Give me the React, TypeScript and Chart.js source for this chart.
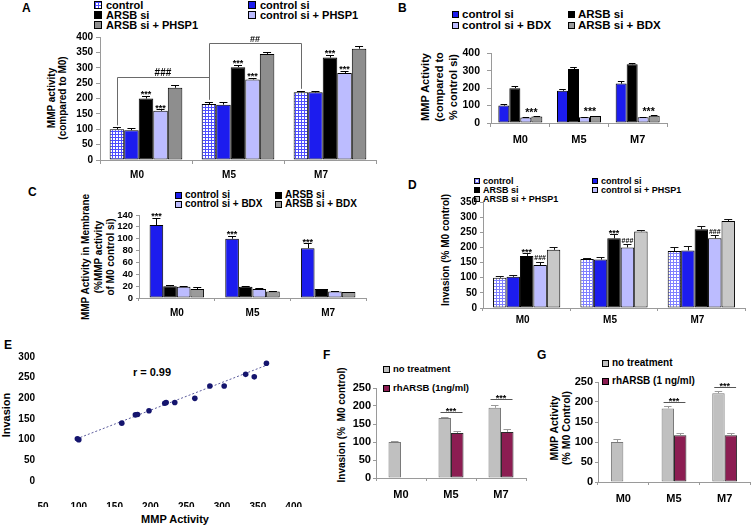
import React, { useEffect, useRef } from 'react';
import { Chart, registerables } from 'chart.js';

Chart.register(...registerables);

const FONT = "'Liberation Sans', Arial, Helvetica, sans-serif";
Chart.defaults.font.family = FONT;

// ---------------- data ----------------
const groups = ['M0', 'M5', 'M7'];

// Panel A — MMP activity (compared to M0)
const aLabels = ['control', 'control si', 'ARSB si', 'control si + PHSP1', 'ARSB si + PHSP1'];
const aControl = [100, 182, 220];
const aControlSi = [97, 180, 220];
const aArsbSi = [200, 302, 333];
const aControlSiPhsp1 = [160, 262, 283];
const aArsbSiPhsp1 = [235, 345, 362];
const aControlErr = [6, 8, 5];
const aControlSiErr = [8, 8, 5];
const aArsbSiErr = [9, 8, 10];
const aControlSiPhsp1Err = [5, 6, 8];
const aArsbSiPhsp1Err = [8, 7, 8];
const aBracketLevels = [270, 380];
const aBracketTexts = ['###', '##'];

// Panel B — MMP Activity (compared to % control si)
const bLabels = ['control si', 'ARSB si', 'control si + BDX', 'ARSB si + BDX'];
const bControlSi = [100, 185, 226];
const bArsbSi = [200, 310, 337];
const bControlSiBdx = [32, 33, 33];
const bArsbSiBdx = [37, 40, 42];
const bControlSiErr = [8, 9, 13];
const bArsbSiErr = [15, 9, 9];
const bControlSiBdxErr = [3, 2, 3];
const bArsbSiBdxErr = [3, 2, 3];

// Panel C — MMP Activity in Membrane
const cLabels = ['control si', 'ARSB si', 'control si + BDX', 'ARSB si + BDX'];
const cControlSi = [123, 100, 84];
const cArsbSi = [20, 19, 15];
const cControlSiBdx = [19, 15, 11];
const cArsbSiBdx = [15, 11, 10];
const cControlSiErr = [12, 5, 8];
const cArsbSiErr = [1.5, 0.5, 0.5];
const cControlSiBdxErr = [0.5, 2, 1.5];
const cArsbSiBdxErr = [3, 1.5, 0.5];

// Panel D — Invasion (% M0 control)
const dLabels = ['control', 'control si', 'ARSB si', 'control si + PHSP1', 'ARSB si + PHSP1'];
const dControl = [100, 162, 188];
const dControlSi = [103, 160, 190];
const dArsbSi = [172, 230, 260];
const dControlSiPhsp1 = [142, 200, 230];
const dArsbSiPhsp1 = [192, 253, 287];
const dControlErr = [5, 3, 13];
const dControlSiErr = [5, 8, 15];
const dArsbSiErr = [8, 13, 12];
const dControlSiPhsp1Err = [10, 10, 10];
const dArsbSiPhsp1Err = [10, 6, 6];

// Panel E — Invasion vs MMP Activity
const eMmp = [98, 100, 160, 179, 182, 198, 220, 222, 234, 262, 283, 303, 333, 345, 362];
const eInvasion = [102, 100, 140, 160, 161, 170, 188, 190, 190, 200, 230, 230, 258, 252, 285];
const eTrendMmp = [97, 362];
const eTrendInvasion = [102, 280];
const eR = 'r = 0.99';

// Panel F — Invasion (% M0 control)
const fLabels = ['no treatment', 'rhARSB (1ng/ml)'];
const fNoTreatment = [100, 167, 195];
const fRhArsb = [null, 125, 128];
const fNoTreatmentErr = [3, 2, 8];
const fRhArsbErr = [0, 5, 7];
const fSigLevels = [null, 182, 220];
const fYTicks = [0, 50, 100, 150, 200, 250];

// Panel G — MMP Activity (% M0 Control)
const gLabels = ['no treatment', 'rhARSB (1 ng/ml)'];
const gNoTreatment = [100, 184, 222];
const gRhArsb = [null, 117, 117];
const gNoTreatmentErr = [8, 6, 5];
const gRhArsbErr = [0, 5, 6];
const gSigLevels = [null, 200, 238];
const gYTicks = [0, 50, 100, 150, 200, 250];

// ---------------- colours ----------------
const BLUE = '#1c1cee';
const LAV = '#bcbcff';
const BLACK = '#000000';
const GRAY_DARK = '#8e8e8e';
const GRAY_MID = '#9a9a9a';
const GRAY_LIGHT = '#c8c8c8';
const FG_GRAY = '#c0c0c0';
const MAROON = '#8c1d52';
const AXIS = '#9a9a9a';

function hatch(color: string) {
  const c = document.createElement('canvas');
  c.width = 3;
  c.height = 3;
  const g = c.getContext('2d')!;
  g.fillStyle = '#fff';
  g.fillRect(0, 0, 3, 3);
  g.fillStyle = color;
  g.fillRect(0, 0, 3, 1);
  g.fillRect(0, 0, 1, 3);
  return g.createPattern(c, 'repeat')!;
}
const cssHatch = (color: string) =>
  `linear-gradient(${color} 1px, transparent 1px) 0 0 / 3px 3px, linear-gradient(90deg, ${color} 1px, transparent 1px) 0 0 / 3px 3px, #fff`;

// ---------------- extras plugin (error bars, significance marks, y tick labels) ----------------
type Mark = { ds: number[]; idx: number; text: string; size: number; level?: number | null; gap?: number };
type Bracket = { a: [number, number]; b: [number, number]; level: number; text: string; size: number };
type Extras = {
  errors: (number | null)[][];
  errColor: string;
  marks?: Mark[];
  brackets?: Bracket[];
  yLabels?: { size: number; offset: number };
};

function makeExtras(opts: Extras) {
  return {
    id: 'extras',
    afterDatasetsDraw(chart: any) {
      const ctx = chart.ctx as CanvasRenderingContext2D;
      const ys = chart.scales.y;
      const val = (ds: number, i: number) => chart.data.datasets[ds].data[i] as number;
      const err = (ds: number, i: number) => (opts.errors[ds] && opts.errors[ds][i]) || 0;
      const el = (ds: number, i: number) => chart.getDatasetMeta(ds).data[i];
      const topPx = (ds: number, i: number) => ys.getPixelForValue(val(ds, i) + err(ds, i));
      const r = (v: number) => Math.round(v) + 0.5;
      ctx.save();
      ctx.lineWidth = 1;
      opts.errors.forEach((errs, ds) => {
        errs.forEach((e, i) => {
          const v = val(ds, i);
          if (v == null || !e) return;
          const b = el(ds, i);
          const y0 = ys.getPixelForValue(v);
          const y1 = ys.getPixelForValue(v + e);
          const cap = Math.min(b.width * 0.3, 4);
          ctx.strokeStyle = opts.errColor;
          ctx.beginPath();
          ctx.moveTo(r(b.x), y0);
          ctx.lineTo(r(b.x), r(y1));
          ctx.moveTo(b.x - cap, r(y1));
          ctx.lineTo(b.x + cap, r(y1));
          ctx.stroke();
        });
      });
      ctx.fillStyle = '#000';
      ctx.textAlign = 'center';
      ctx.textBaseline = 'alphabetic';
      (opts.marks || []).forEach((m) => {
        ctx.font = `bold ${m.size}px ${FONT}`;
        const els = m.ds.map((d) => el(d, m.idx));
        const x = els.reduce((s, e) => s + e.x, 0) / els.length;
        if (m.level != null) {
          const yl = r(ys.getPixelForValue(m.level));
          const left = Math.min(...els.map((e) => e.x - e.width / 2)) + 2;
          const right = Math.max(...els.map((e) => e.x + e.width / 2)) - 1;
          ctx.strokeStyle = '#555';
          ctx.beginPath();
          ctx.moveTo(left, yl);
          ctx.lineTo(right, yl);
          ctx.stroke();
          ctx.fillText(m.text, x, yl + 1.5);
        } else {
          const base = Math.min(...m.ds.map((d) => topPx(d, m.idx))) - (m.gap || 0);
          const star = m.text.indexOf('*') >= 0;
          ctx.fillText(m.text, x, base + (star ? 1.5 : -1.5));
        }
      });
      (opts.brackets || []).forEach((bk) => {
        const ea = el(bk.a[0], bk.a[1]);
        const eb = el(bk.b[0], bk.b[1]);
        const ya = topPx(bk.a[0], bk.a[1]) - 2;
        const yb = topPx(bk.b[0], bk.b[1]) - 2;
        const yl = r(ys.getPixelForValue(bk.level));
        ctx.strokeStyle = '#6a6a6a';
        ctx.beginPath();
        ctx.moveTo(r(ea.x), ya);
        ctx.lineTo(r(ea.x), yl);
        ctx.lineTo(r(eb.x), yl);
        ctx.lineTo(r(eb.x), yb);
        ctx.stroke();
        ctx.font = `bold ${bk.size}px ${FONT}`;
        ctx.fillText(bk.text, (ea.x + eb.x) / 2, yl - 2);
      });
      ctx.restore();
    },
    afterDraw(chart: any) {
      if (!opts.yLabels) return;
      const ctx = chart.ctx as CanvasRenderingContext2D;
      const ys = chart.scales.y;
      ctx.save();
      ctx.font = `bold ${opts.yLabels.size}px ${FONT}`;
      ctx.fillStyle = '#000';
      ctx.textAlign = 'right';
      ctx.textBaseline = 'middle';
      ys.ticks.forEach((t: any) => {
        ctx.fillText(String(t.label), ys.right - opts.yLabels!.offset, ys.getPixelForValue(t.value));
      });
      ctx.restore();
    },
  };
}

// ---------------- chart helpers ----------------
type Box = { L: number; T: number; R: number; B: number; yW: number; xH: number; pt: number; pr: number };

type DS = { label: string; data: (number | null)[]; bg: any; border?: string };
type BarSpec = {
  box: Box;
  datasets: DS[];
  min: number;
  max: number;
  step: number;
  yFont: number;
  xFont: number;
  yTick: number;
  yPad: number;
  xTick: number;
  xPad: number;
  catPct: number;
  labelOffset?: number;
  yMode?: 'lib' | 'own' | 'html';
  extras: Extras;
};

function buildBar(canvas: HTMLCanvasElement, s: BarSpec) {
  const mode = s.yMode || 'lib';
  const extras: Extras = mode === 'own' ? { ...s.extras, yLabels: { size: s.yFont, offset: s.yTick + s.yPad } } : s.extras;
  return new Chart(canvas, {
    type: 'bar',
    data: {
      labels: groups,
      datasets: s.datasets.map((d) => ({
        label: d.label,
        data: d.data,
        backgroundColor: d.bg,
        borderColor: d.border || '#000',
        borderWidth: 1,
        borderSkipped: false,
        barPercentage: 1,
        categoryPercentage: s.catPct,
      })),
    },
    options: {
      responsive: false,
      maintainAspectRatio: false,
      animation: false,
      devicePixelRatio: 1,
      events: [],
      layout: { padding: { top: s.box.pt, right: s.box.pr, left: 0, bottom: 0 } },
      plugins: { legend: { display: false }, tooltip: { enabled: false }, title: { display: false } },
      scales: {
        x: {
          type: 'category',
          offset: true,
          grid: { display: true, offset: true, drawOnChartArea: false, drawTicks: true, tickLength: s.xTick, color: AXIS },
          border: { display: true, color: AXIS },
          ticks: {
            font: { family: FONT, size: s.xFont, weight: 'bold' },
            color: '#000',
            padding: s.xPad,
            maxRotation: 0,
            autoSkip: false,
            labelOffset: s.labelOffset || 0,
          },
          afterFit: (sc: any) => {
            sc.height = s.box.xH;
          },
        },
        y: {
          type: 'linear',
          min: s.min,
          max: s.max,
          grid: { display: true, drawOnChartArea: false, drawTicks: true, tickLength: s.yTick, color: AXIS },
          border: { display: true, color: AXIS },
          ticks: {
            stepSize: s.step,
            autoSkip: false,
            font: { family: FONT, size: s.yFont, weight: 'bold' },
            color: mode === 'lib' ? '#000' : 'rgba(0,0,0,0)',
            padding: s.yPad,
          },
          afterFit: (sc: any) => {
            sc.width = s.box.yW;
          },
        },
      },
    } as any,
    plugins: [makeExtras(extras)] as any,
  });
}

function ChartBox({ box, build }: { box: Box; build: (c: HTMLCanvasElement) => Chart }) {
  const ref = useRef<HTMLCanvasElement>(null);
  useEffect(() => {
    const chart = build(ref.current!);
    return () => chart.destroy();
  }, []);
  const w = box.R - box.L + box.yW + box.pr;
  const h = box.B - box.T + box.pt + box.xH;
  return (
    <canvas
      ref={ref}
      width={w}
      height={h}
      style={{ position: 'absolute', left: box.L - box.yW, top: box.T - box.pt, width: w, height: h }}
    />
  );
}

// ---------------- HTML text helpers ----------------
type Item = { x: number; cy: number; label: string; fill: string };
function Legend({ items, font, sq, gap }: { items: Item[]; font: number; sq: number; gap: number }) {
  return (
    <>
      {items.map((it, k) => (
        <div
          key={k}
          style={{
            position: 'absolute',
            left: it.x,
            top: it.cy - 6,
            height: 12,
            display: 'flex',
            alignItems: 'center',
            whiteSpace: 'pre',
            font: `bold ${font}px ${FONT}`,
            lineHeight: '12px',
            color: '#000',
          }}
        >
          <span
            style={{
              display: 'inline-block',
              width: sq,
              height: sq,
              boxSizing: 'border-box',
              border: '1px solid #000',
              background: it.fill,
              marginRight: gap,
              flex: 'none',
            }}
          />
          <span>{it.label}</span>
        </div>
      ))}
    </>
  );
}

function VTitle({ cx, cy, lines, size, lh }: { cx: number; cy: number; lines: string[]; size: number; lh: number }) {
  return (
    <div
      style={{
        position: 'absolute',
        left: cx,
        top: cy,
        transform: 'translate(-50%, -50%) rotate(-90deg)',
        font: `bold ${size}px ${FONT}`,
        lineHeight: `${lh}px`,
        textAlign: 'center',
        whiteSpace: 'pre',
        color: '#000',
      }}
    >
      {lines.join('\n')}
    </div>
  );
}

function Txt({ cx, cy, text, size }: { cx: number; cy: number; text: string; size: number }) {
  return (
    <div
      style={{
        position: 'absolute',
        left: cx,
        top: cy,
        transform: 'translate(-50%, -50%)',
        font: `bold ${size}px ${FONT}`,
        lineHeight: `${size + 2}px`,
        whiteSpace: 'pre',
        color: '#000',
      }}
    >
      {text}
    </div>
  );
}

// y tick labels as page text, placed on the same linear mapping as the chart's y scale
function YTickText({ box, ticks, min, max, offset, size }: { box: Box; ticks: number[]; min: number; max: number; offset: number; size: number }) {
  return (
    <>
      {ticks.map((t) => {
        const y = box.B - ((t - min) / (max - min)) * (box.B - box.T);
        return (
          <div
            key={t}
            style={{
              position: 'absolute',
              left: box.L - offset - 40,
              width: 40,
              top: y - 7,
              height: 14,
              lineHeight: '14px',
              textAlign: 'right',
              font: `bold ${size}px ${FONT}`,
              color: '#000',
              zIndex: 5,
            }}
          >
            {String(t)}
          </div>
        );
      })}
    </>
  );
}

function Letter({ x, y, t }: { x: number; y: number; t: string }) {
  return (
    <div style={{ position: 'absolute', left: x, top: y, font: `bold 12px ${FONT}`, lineHeight: '12px', color: '#000' }}>{t}</div>
  );
}

// ---------------- panels ----------------
const boxA: Box = { L: 100, T: 37, R: 376, B: 160, yW: 36, xH: 26, pt: 14, pr: 4 };
const boxB: Box = { L: 491, T: 50, R: 667, B: 123, yW: 40, xH: 26, pt: 10, pr: 4 };
const boxC: Box = { L: 139, T: 215, R: 366, B: 298, yW: 30, xH: 24, pt: 10, pr: 4 };
const boxD: Box = { L: 483, T: 201, R: 745, B: 308, yW: 32, xH: 22, pt: 8, pr: 4 };
const boxE: Box = { L: 43, T: 351, R: 302, B: 481, yW: 36, xH: 26, pt: 8, pr: 12 };
const boxF: Box = { L: 376, T: 388, R: 526, B: 478, yW: 28, xH: 26, pt: 10, pr: 4 };
const boxG: Box = { L: 598, T: 382, R: 750, B: 482, yW: 28, xH: 26, pt: 10, pr: 1 };

const starsOn = (dsList: number[][], text: string, size: number, gap = 0): Mark[] =>
  dsList.map(([ds, idx]) => ({ ds: [ds], idx, text, size, gap }));

function buildA(c: HTMLCanvasElement) {
  return buildBar(c, {
    box: boxA,
    datasets: [
      { label: aLabels[0], data: aControl, bg: hatch('#4d4dff') },
      { label: aLabels[1], data: aControlSi, bg: BLUE },
      { label: aLabels[2], data: aArsbSi, bg: BLACK },
      { label: aLabels[3], data: aControlSiPhsp1, bg: LAV },
      { label: aLabels[4], data: aArsbSiPhsp1, bg: GRAY_DARK },
    ],
    min: 0,
    max: 400,
    step: 50,
    yFont: 10,
    xFont: 10,
    yTick: 4,
    yPad: 3,
    xTick: 4,
    xPad: 5,
    catPct: 0.79,
    labelOffset: -9,
    extras: {
      errors: [aControlErr, aControlSiErr, aArsbSiErr, aControlSiPhsp1Err, aArsbSiPhsp1Err],
      errColor: '#000',
      marks: starsOn([[2, 0], [3, 0], [2, 1], [3, 1], [2, 2], [3, 2]], '***', 9),
      brackets: [
        { a: [0, 0], b: [0, 1], level: aBracketLevels[0], text: aBracketTexts[0], size: 10 },
        { a: [0, 1], b: [0, 2], level: aBracketLevels[1], text: aBracketTexts[1], size: 9 },
      ],
    },
  });
}

function buildB(c: HTMLCanvasElement) {
  return buildBar(c, {
    box: boxB,
    datasets: [
      { label: bLabels[0], data: bControlSi, bg: BLUE },
      { label: bLabels[1], data: bArsbSi, bg: BLACK },
      { label: bLabels[2], data: bControlSiBdx, bg: LAV },
      { label: bLabels[3], data: bArsbSiBdx, bg: GRAY_MID },
    ],
    min: 0,
    max: 400,
    step: 100,
    yFont: 10.5,
    xFont: 11,
    yTick: 4,
    yPad: 7,
    xTick: 4,
    xPad: 6,
    catPct: 0.75,
    extras: {
      errors: [bControlSiErr, bArsbSiErr, bControlSiBdxErr, bArsbSiBdxErr],
      errColor: '#000',
      marks: [0, 1, 2].map((idx) => ({ ds: [2, 3], idx, text: '***', size: 10.5, gap: 2 })),
    },
  });
}

function buildC(c: HTMLCanvasElement) {
  return buildBar(c, {
    box: boxC,
    datasets: [
      { label: cLabels[0], data: cControlSi, bg: BLUE },
      { label: cLabels[1], data: cArsbSi, bg: BLACK },
      { label: cLabels[2], data: cControlSiBdx, bg: LAV },
      { label: cLabels[3], data: cArsbSiBdx, bg: GRAY_MID },
    ],
    min: 0,
    max: 140,
    step: 20,
    yFont: 9.5,
    xFont: 10,
    yTick: 3,
    yPad: 3,
    xTick: 3,
    xPad: 6,
    catPct: 0.72,
    yMode: 'own',
    extras: {
      errors: [cControlSiErr, cArsbSiErr, cControlSiBdxErr, cArsbSiBdxErr],
      errColor: '#000',
      marks: starsOn([[0, 0], [0, 1], [0, 2]], '***', 9),
    },
  });
}

function buildD(c: HTMLCanvasElement) {
  return buildBar(c, {
    box: boxD,
    datasets: [
      { label: dLabels[0], data: dControl, bg: hatch('#8080ff') },
      { label: dLabels[1], data: dControlSi, bg: BLUE },
      { label: dLabels[2], data: dArsbSi, bg: BLACK },
      { label: dLabels[3], data: dControlSiPhsp1, bg: LAV },
      { label: dLabels[4], data: dArsbSiPhsp1, bg: GRAY_LIGHT },
    ],
    min: 0,
    max: 350,
    step: 50,
    yFont: 10,
    xFont: 10,
    yTick: 3,
    yPad: 3,
    xTick: 3,
    xPad: 3,
    catPct: 0.77,
    labelOffset: -4,
    extras: {
      errors: [dControlErr, dControlSiErr, dArsbSiErr, dControlSiPhsp1Err, dArsbSiPhsp1Err],
      errColor: '#111',
      marks: [
        ...starsOn([[2, 0], [2, 1]], '***', 9),
        ...starsOn([[3, 0], [3, 1], [3, 2]], '###', 7),
      ],
    },
  });
}

function buildE(c: HTMLCanvasElement) {
  const box = boxE;
  return new Chart(c, {
    type: 'scatter',
    data: {
      datasets: [
        {
          label: 'points',
          data: eMmp.map((x, i) => ({ x, y: eInvasion[i] })),
          backgroundColor: '#15156e',
          borderColor: '#15156e',
          pointRadius: 2.8,
          borderWidth: 0,
        },
        {
          type: 'line',
          label: 'trend',
          data: eTrendMmp.map((x, i) => ({ x, y: eTrendInvasion[i] })),
          borderColor: '#5c5c9c',
          borderWidth: 1,
          borderDash: [2, 2],
          pointRadius: 0,
          fill: false,
        } as any,
      ],
    },
    options: {
      responsive: false,
      maintainAspectRatio: false,
      animation: false,
      devicePixelRatio: 1,
      events: [],
      layout: { padding: { top: box.pt, right: box.pr, left: 0, bottom: 0 } },
      plugins: { legend: { display: false }, tooltip: { enabled: false } },
      scales: {
        x: {
          type: 'linear',
          min: 50,
          max: 400,
          grid: { display: false },
          border: { display: false },
          ticks: {
            stepSize: 50,
            autoSkip: false,
            maxRotation: 0,
            font: { family: FONT, size: 10, weight: 'bold' },
            color: '#000',
            padding: 12,
          },
          afterFit: (sc: any) => {
            sc.height = box.xH;
          },
        },
        y: {
          type: 'linear',
          min: 0,
          max: 300,
          grid: { display: false },
          border: { display: false },
          ticks: {
            stepSize: 50,
            autoSkip: false,
            font: { family: FONT, size: 10, weight: 'bold' },
            color: 'rgba(0,0,0,0)',
            padding: 8,
          },
          afterFit: (sc: any) => {
            sc.width = box.yW;
          },
        },
      },
    } as any,
    plugins: [makeExtras({ errors: [], errColor: '#000', yLabels: { size: 10, offset: 8 } })] as any,
  });
}

function buildF(c: HTMLCanvasElement) {
  return buildBar(c, {
    box: boxF,
    datasets: [
      { label: fLabels[0], data: fNoTreatment, bg: FG_GRAY, border: '#7a7a7a' },
      { label: fLabels[1], data: fRhArsb, bg: MAROON, border: '#2a2a2a' },
    ],
    min: 0,
    max: 250,
    step: 50,
    yFont: 11,
    xFont: 11,
    yTick: 3,
    yPad: 2,
    xTick: 3,
    xPad: 7,
    catPct: 0.5,
    yMode: 'html',
    extras: {
      errors: [fNoTreatmentErr, fRhArsbErr],
      errColor: '#999',
      marks: [1, 2].map((idx) => ({ ds: [0, 1], idx, text: '***', size: 9, level: fSigLevels[idx] })),
    },
  });
}

function buildG(c: HTMLCanvasElement) {
  return buildBar(c, {
    box: boxG,
    datasets: [
      { label: gLabels[0], data: gNoTreatment, bg: FG_GRAY, border: '#7a7a7a' },
      { label: gLabels[1], data: gRhArsb, bg: MAROON, border: '#2a2a2a' },
    ],
    min: 0,
    max: 250,
    step: 50,
    yFont: 11,
    xFont: 11,
    yTick: 3,
    yPad: 2,
    xTick: 3,
    xPad: 7,
    catPct: 0.49,
    yMode: 'html',
    extras: {
      errors: [gNoTreatmentErr, gRhArsbErr],
      errColor: '#999',
      marks: [1, 2].map((idx) => ({ ds: [0, 1], idx, text: '***', size: 9, level: gSigLevels[idx] })),
    },
  });
}

export default function App() {
  return (
    <div
      style={{
        position: 'absolute',
        left: 0,
        top: 0,
        width: 752,
        height: 525,
        overflow: 'hidden',
        background: '#fff',
        fontFamily: FONT,
      }}
    >
      <Letter x={22} y={1.5} t="A" />
      <Letter x={398} y={1.5} t="B" />
      <Letter x={28} y={185.5} t="C" />
      <Letter x={408} y={178.5} t="D" />
      <Letter x={4} y={339} t="E" />
      <Letter x={323} y={348.5} t="F" />
      <Letter x={537} y={348.5} t="G" />

      {/* Panel A */}
      <Legend
        font={11}
        sq={8}
        gap={4}
        items={[
          { x: 94, cy: 4.5, label: aLabels[0], fill: cssHatch('#4d4dff') },
          { x: 248, cy: 4.5, label: aLabels[1], fill: BLUE },
          { x: 94, cy: 14.5, label: aLabels[2], fill: BLACK },
          { x: 248, cy: 14.5, label: aLabels[3], fill: LAV },
          { x: 94, cy: 24.5, label: aLabels[4], fill: GRAY_DARK },
        ]}
      />
      <VTitle cx={57} cy={98} lines={['MMP activity', '(compared to M0)']} size={10} lh={11} />

      {/* Panel B */}
      <Legend
        font={11.5}
        sq={7}
        gap={3}
        items={[
          { x: 452, cy: 14, label: bLabels[0], fill: BLUE },
          { x: 568, cy: 14, label: bLabels[1], fill: BLACK },
          { x: 452, cy: 25, label: bLabels[2], fill: LAV },
          { x: 568, cy: 25, label: bLabels[3], fill: GRAY_MID },
        ]}
      />
      <VTitle cx={439} cy={86.5} lines={['MMP Activity', '(compared to', '% control si)']} size={11} lh={14} />

      {/* Panel C */}
      <Legend
        font={10}
        sq={7}
        gap={3}
        items={[
          { x: 175, cy: 195, label: cLabels[0], fill: BLUE },
          { x: 275, cy: 195, label: cLabels[1], fill: BLACK },
          { x: 175, cy: 204, label: cLabels[2], fill: LAV },
          { x: 275, cy: 204, label: cLabels[3], fill: GRAY_MID },
        ]}
      />
      <VTitle cx={99} cy={257} lines={['MMP Activity in Membrane', '(%MMP activity', 'of M0 control si)']} size={10} lh={12.5} />

      {/* Panel D */}
      <Legend
        font={9}
        sq={6}
        gap={3}
        items={[
          { x: 474, cy: 181, label: dLabels[0], fill: cssHatch('#8080ff') },
          { x: 592, cy: 181, label: dLabels[1], fill: BLUE },
          { x: 474, cy: 190, label: dLabels[2], fill: BLACK },
          { x: 592, cy: 190, label: dLabels[3], fill: LAV },
          { x: 474, cy: 199, label: dLabels[4], fill: GRAY_LIGHT },
        ]}
      />
      <VTitle cx={446} cy={250} lines={['Invasion (% M0 control)']} size={10} lh={12} />

      {/* Panel E */}
      <VTitle cx={6} cy={415} lines={['Invasion']} size={11} lh={12} />
      <Txt cx={152} cy={372} text={eR} size={11} />
      <Txt cx={175} cy={519} text="MMP Activity" size={11} />

      {/* Panel F */}
      <Legend
        font={9.5}
        sq={7}
        gap={3}
        items={[
          { x: 383, cy: 369, label: fLabels[0], fill: FG_GRAY },
          { x: 383, cy: 388, label: fLabels[1], fill: MAROON },
        ]}
      />
      <VTitle cx={342} cy={425} lines={['Invasion (%  M0 control)']} size={10} lh={12} />

      {/* Panel G */}
      <Legend
        font={10}
        sq={7}
        gap={3}
        items={[
          { x: 602, cy: 363, label: gLabels[0], fill: FG_GRAY },
          { x: 602, cy: 381, label: gLabels[1], fill: MAROON },
        ]}
      />
      <VTitle cx={560} cy={428} lines={['MMP Activity', '(% M0 Control)']} size={10.5} lh={12} />

      <ChartBox box={boxA} build={buildA} />
      <ChartBox box={boxB} build={buildB} />
      <ChartBox box={boxC} build={buildC} />
      <ChartBox box={boxD} build={buildD} />
      <ChartBox box={boxE} build={buildE} />
      <ChartBox box={boxF} build={buildF} />
      <ChartBox box={boxG} build={buildG} />

      <YTickText box={boxF} ticks={fYTicks} min={0} max={250} offset={5} size={11} />
      <YTickText box={boxG} ticks={gYTicks} min={0} max={250} offset={5} size={11} />
    </div>
  );
}
